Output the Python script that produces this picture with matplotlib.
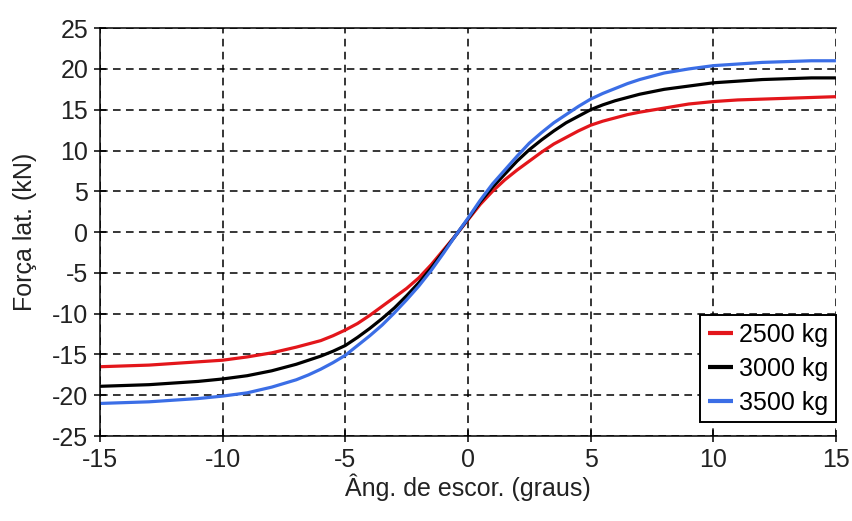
import matplotlib
matplotlib.use("Agg")
import matplotlib.pyplot as plt

plt.rcParams["font.family"] = ["Liberation Sans", "DejaVu Sans"]
plt.rcParams["axes.unicode_minus"] = False

# slip angle (deg)
angle = [-15, -14, -13, -12, -11, -10, -9, -8,
         -7, -6.5, -6, -5.5, -5, -4.5, -4, -3.5, -3, -2.5, -2, -1.5, -1, -0.5, 0,
         0.5, 1, 1.5, 2, 2.5, 3, 3.5, 4, 4.5, 5, 5.5, 6, 6.5, 7,
         8, 9, 10, 11, 12, 13, 14, 15]

# lateral force (kN) for each load
force_2500 = [-16.5, -16.4, -16.3, -16.1, -15.9, -15.7, -15.3, -14.8,
              -14.1, -13.7, -13.3, -12.7, -12.0, -11.2, -10.2, -9.1, -8.0, -6.9, -5.6,
              -4.0, -2.2, -0.4, 1.5,
              3.4, 5.0, 6.4, 7.6, 8.7, 9.8, 10.8, 11.6, 12.4, 13.1, 13.6, 14.0, 14.4, 14.7,
              15.2, 15.7, 16.0, 16.2, 16.3, 16.4, 16.5, 16.6]
force_3000 = [-18.9, -18.8, -18.7, -18.5, -18.3, -18.0, -17.6, -17.0,
              -16.2, -15.7, -15.2, -14.6, -13.9, -12.9, -11.8, -10.6, -9.3, -7.8, -6.2,
              -4.4, -2.4, -0.4, 1.6,
              3.7, 5.5, 7.1, 8.7, 10.1, 11.3, 12.4, 13.4, 14.2, 15.0, 15.6, 16.1, 16.5, 16.9,
              17.5, 17.9, 18.3, 18.5, 18.7, 18.8, 18.9, 18.9]
force_3500 = [-21.0, -20.9, -20.8, -20.6, -20.4, -20.1, -19.7, -19.0,
              -18.1, -17.5, -16.8, -16.0, -15.1, -13.9, -12.7, -11.4, -9.9, -8.3, -6.6,
              -4.7, -2.6, -0.4, 1.7,
              3.9, 5.9, 7.6, 9.3, 10.9, 12.2, 13.4, 14.4, 15.4, 16.3, 17.0, 17.6, 18.2, 18.7,
              19.5, 20.0, 20.4, 20.6, 20.8, 20.9, 21.0, 21.0]

labels = ["2500 kg", "3000 kg", "3500 kg"]
colors = ["#e3161b", "#000000", "#3b6ee6"]

fig = plt.figure(figsize=(8.53, 5.21), dpi=100)
ax = fig.add_axes([0.1172, 0.163, 0.8628, 0.783])

for series, label, color in zip([force_2500, force_3000, force_3500], labels, colors):
    ax.plot(angle, series, color=color, lw=2.3, label=label, solid_capstyle="butt")

ax.set_xlim(-15, 15)
ax.set_ylim(-25, 25)
ax.set_xticks(range(-15, 16, 5))
ax.set_yticks(range(-25, 26, 5))
ax.grid(True, color="black", linestyle=(0, (5, 3.5)), lw=1.1)

ax.spines["right"].set_visible(False)
for side in ["left", "bottom", "top"]:
    ax.spines[side].set_linewidth(1.1)
ax.tick_params(direction="inout", length=9, width=1.1, labelsize=18,
               labelcolor="#222222", pad=4)

ax.set_xlabel("Âng. de escor. (graus)", fontsize=18, color="#222222", labelpad=1)
ax.set_ylabel("Força lat. (kN)", fontsize=18, color="#222222", labelpad=11)

leg = ax.legend(loc="lower right", bbox_to_anchor=(1.0, 0.034), borderaxespad=0,
                fontsize=18, handlelength=1.0, handletextpad=0.25, labelspacing=0.4,
                borderpad=0.3, fancybox=False, framealpha=1)
leg.get_frame().set_edgecolor("black")
leg.get_frame().set_linewidth(1.4)
for line in leg.get_lines():
    line.set_linewidth(3)

fig.savefig("out.png", dpi=100)
